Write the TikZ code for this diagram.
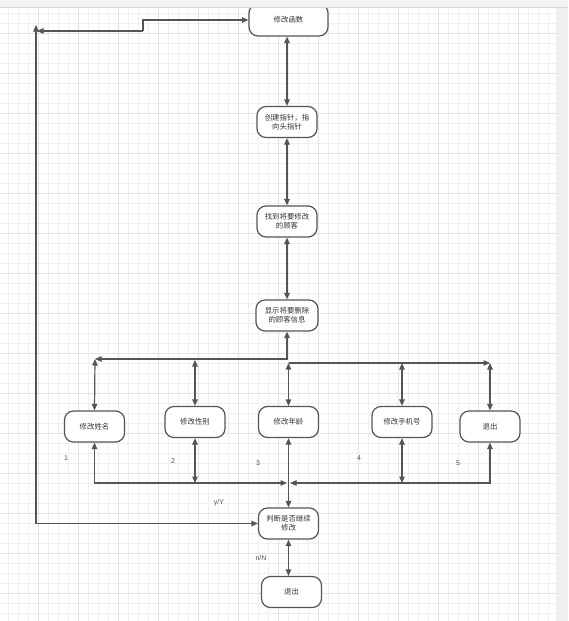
\documentclass[tikz,border=0pt]{standalone}
\usepackage{fontspec}
\setmainfont{Liberation Sans}
\newfontfamily\cjk{Noto Sans CJK SC}
\usetikzlibrary{arrows.meta}
\definecolor{gridminor}{HTML}{EFEFEF}
\definecolor{gridmajor}{HTML}{E3E3E3}
\definecolor{edgecol}{HTML}{555555}
\definecolor{txtcol}{HTML}{333333}
\definecolor{bandcol}{HTML}{F2F2F2}
\definecolor{bandline}{HTML}{D5D5D5}
\definecolor{stripcol}{HTML}{EFEFEF}
\begin{document}
\begin{tikzpicture}[x=1pt,y=-1pt,
  >={Triangle[length=6.5pt,width=5.5pt]},
  box/.style={draw=edgecol, line width=1.2pt, rounded corners=9pt, fill=white,
    minimum width=60pt, minimum height=31pt, inner sep=1pt, align=center,
    font=\cjk\fontsize{7.4}{8.8}\selectfont, text=txtcol},
  conn/.style={draw=edgecol, line width=1.2pt},
  lbl/.style={font=\fontsize{7}{8}\selectfont, text=txtcol!85, inner sep=0pt}]
\useasboundingbox (0,0) rectangle (568,621);
% background grid
\fill[white] (0,0) rectangle (568,621);
\foreach \x in {8.5,18.5,...,550} \draw[gridminor, line width=0.8pt] (\x,7) -- (\x,621);
\foreach \y in {13,23,...,618} \draw[gridminor, line width=0.8pt] (0,\y) -- (556,\y);
\foreach \x in {38.5,78.5,...,520} \draw[gridmajor, line width=1pt] (\x,7) -- (\x,621);
\foreach \y in {33,73,...,600} \draw[gridmajor, line width=1pt] (0,\y) -- (556,\y);
\fill[stripcol] (556,0) rectangle (568,621);
% nodes
\node[box, minimum width=79pt, minimum height=32pt] (func) at (288.5,20) {修改函数};
\node[box] (create) at (287,122) {创建指针，指\\向头指针};
\node[box] (find) at (287,221.5) {找到将要修改\\的顾客};
\node[box, minimum width=62pt] (show) at (287,315.5) {显示将要删除\\的顾客信息};
\node[box] (name) at (94.5,426.5) {修改姓名};
\node[box] (gender) at (195,422) {修改性别};
\node[box] (age) at (288.5,422) {修改年龄};
\node[box] (phone) at (402,422) {修改手机号};
\node[box] (exitA) at (490,426.5) {退出};
\node[box] (judge) at (288.5,523.5) {判断是否继续\\修改};
\node[box] (exitB) at (291.5,592) {退出};
% coordinates
\coordinate (lb) at (36,523.5);
\coordinate (lt) at (36,25);
\coordinate (lm) at (143,31);
\coordinate (la) at (37,31);
\coordinate (t1) at (95,359);
\coordinate (g1) at (195,360);
\coordinate (r0) at (288.5,363);
\coordinate (r1) at (490,363);
\coordinate (p1) at (402,363);
\coordinate (bL) at (287,483);
\coordinate (bR) at (290,483);
\coordinate (bM) at (288.5,483);
\coordinate (bG) at (195,483);
\coordinate (bP) at (402,483);
% connectors
\draw[conn,->] (lb) -- (judge.west);
\draw[conn,->] (lb) -- (lt);
\draw[conn,->] (lm) -- (la);
\draw[conn,->] (lm) |- (func.west);
\draw[conn,<->] (func.south -| create.north) -- (create.north);
\draw[conn,<->] (create) -- (find);
\draw[conn,<->] (find) -- (show);
\draw[conn,<->] (show.south) |- (t1);
\draw[conn,<->] (t1) -- (name.north);
\draw[conn,<->] (g1) -- (gender.north);
\draw[conn,->] (r0) -- (r1);
\draw[conn,<->] (r0) -- (age.north);
\draw[conn,<->] (p1) -- (phone.north);
\draw[conn,<->] (r1) -- (exitA.north);
\draw[conn,<->] (name.south) |- (bL);
\draw[conn,<->] (exitA.south) |- (bR);
\draw[conn,<->] (gender.south) -- (bG);
\draw[conn,<->] (phone.south) -- (bP);
\draw[conn,->] (bM) -- (age.south);
\draw[conn,->] (bM) -- (judge.north);
\draw[conn,<->] (judge.south) -- (judge.south |- exitB.north);
% labels
\node[lbl] (n1) at (66,458) {1};
\node[lbl] (n2) at (173,461) {2};
\node[lbl] (n3) at (258,463) {3};
\node[lbl] (n4) at (359,458) {4};
\node[lbl] (n5) at (458,463) {5};
\node[lbl] (yY) at (219,503) {y/Y};
\node[lbl] (nN) at (261,558) {n/N};
% top band
\fill[bandcol] (0,0) rectangle (568,7);
\draw[bandline, line width=0.8pt] (0,7) -- (568,7);
\end{tikzpicture}
\end{document}
